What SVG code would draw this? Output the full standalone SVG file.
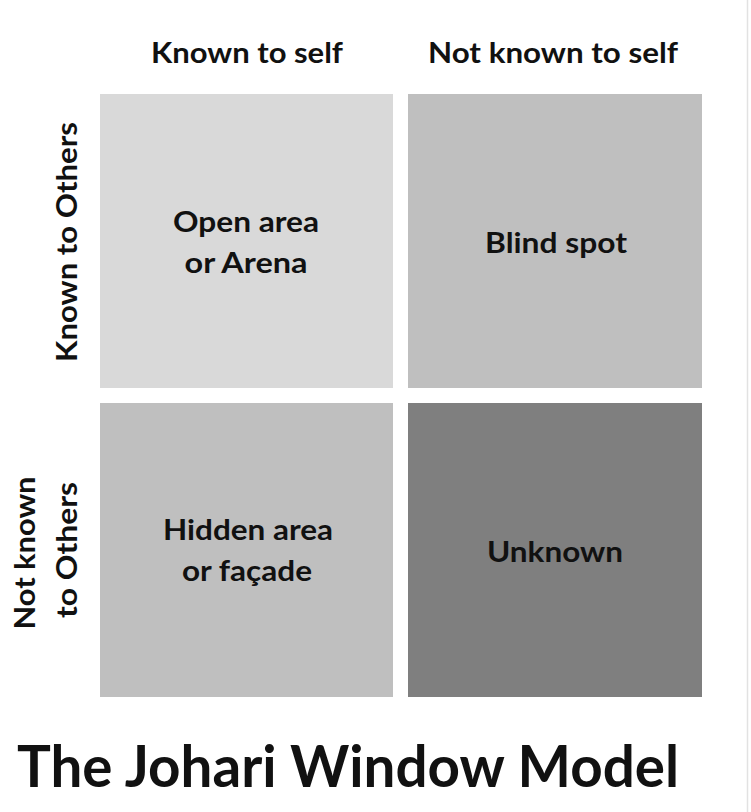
<svg xmlns="http://www.w3.org/2000/svg" width="751" height="812" viewBox="0 0 751 812">
<style>
  text { font-family: Lato, "Liberation Sans", sans-serif; font-weight: bold; fill: #111; text-anchor: middle; }
  .h { font-size: 29px; }
  .c { font-size: 29px; }
  .t { font-size: 57px; text-anchor: start; }
</style>
<rect x="0" y="0" width="751" height="812" fill="#ffffff"/>
<line x1="747.5" y1="0" x2="747.5" y2="812" stroke="#e2e2e2" stroke-width="1.5"/>
<g id="header-known-self"><text class="h" x="247" y="63" textLength="192" lengthAdjust="spacingAndGlyphs">Known to self</text></g>
<g id="header-not-known-self"><text class="h" x="553" y="63" textLength="250" lengthAdjust="spacingAndGlyphs">Not known to self</text></g>
<g id="label-known-others"><text class="h" transform="translate(77,242) rotate(-90)" textLength="240" lengthAdjust="spacingAndGlyphs">Known to Others</text></g>
<g id="label-not-known-others">
  <text class="h" transform="translate(35,553) rotate(-90)" textLength="153" lengthAdjust="spacingAndGlyphs">Not known</text>
  <text class="h" transform="translate(77,550) rotate(-90)" textLength="136" lengthAdjust="spacingAndGlyphs">to Others</text>
</g>
<g id="open-area">
  <rect x="100" y="94" width="293" height="294" fill="#d9d9d9"/>
  <text class="c" x="246" y="232" textLength="146" lengthAdjust="spacingAndGlyphs">Open area</text>
  <text class="c" x="246" y="273" textLength="123" lengthAdjust="spacingAndGlyphs">or Arena</text>
</g>
<g id="blind-spot">
  <rect x="408" y="94" width="294" height="294" fill="#bfbfbf"/>
  <text class="c" x="556" y="253" textLength="142" lengthAdjust="spacingAndGlyphs">Blind spot</text>
</g>
<g id="hidden-area">
  <rect x="100" y="403" width="293" height="294" fill="#bfbfbf"/>
  <text class="c" x="248" y="540" textLength="170" lengthAdjust="spacingAndGlyphs">Hidden area</text>
  <text class="c" x="247" y="581" textLength="130" lengthAdjust="spacingAndGlyphs">or façade</text>
</g>
<g id="unknown">
  <rect x="408" y="403" width="294" height="294" fill="#7f7f7f"/>
  <text class="c" x="555" y="562" textLength="136" lengthAdjust="spacingAndGlyphs">Unknown</text>
</g>
<g id="connectors"></g>
<g id="title"><text class="t" x="17" y="787" textLength="662" lengthAdjust="spacingAndGlyphs">The Johari Window Model</text></g>
</svg>
